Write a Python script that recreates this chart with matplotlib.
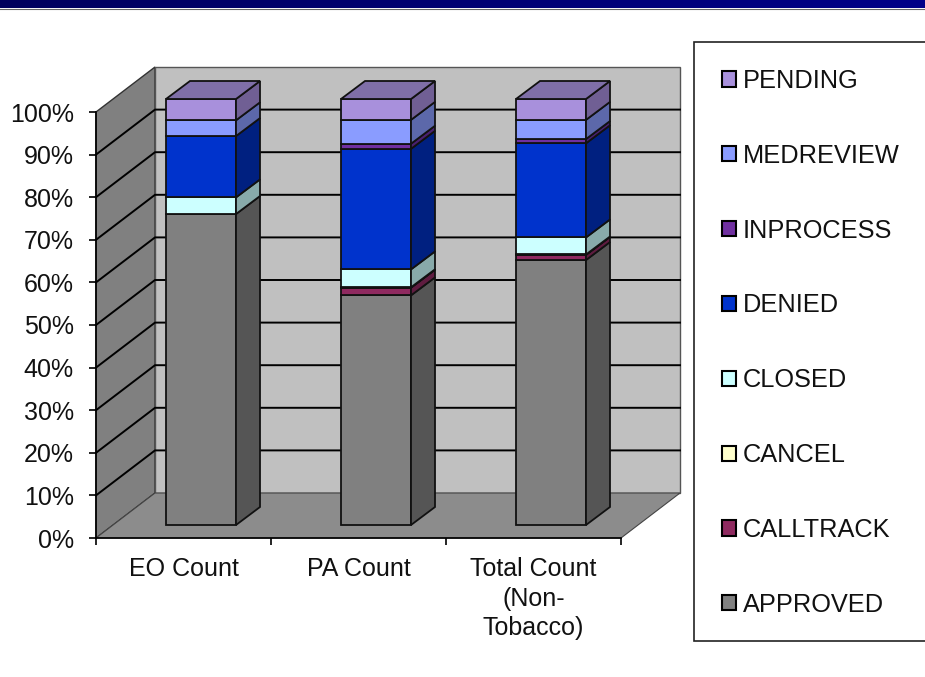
import matplotlib
matplotlib.use('Agg')
import matplotlib.pyplot as plt
from matplotlib.colors import LinearSegmentedColormap
from matplotlib.patches import Patch, Rectangle
import numpy as np

plt.rcParams['font.family'] = ['Liberation Sans', 'DejaVu Sans']

categories = ['EO Count', 'PA Count', 'Total Count\n(Non-\nTobacco)']
series_names = ['APPROVED', 'CALLTRACK', 'CANCEL', 'CLOSED', 'DENIED', 'INPROCESS', 'MEDREVIEW', 'PENDING']

approved = [73.0, 53.9, 62.2]
calltrack = [0.0, 1.8, 1.2]
cancel = [0.0, 0.1, 0.1]
closed = [3.9, 4.2, 4.0]
denied = [14.4, 28.3, 22.1]
inprocess = [0.0, 1.2, 1.0]
medreview = [3.7, 5.6, 4.5]
pending = [5.0, 4.9, 4.9]
series = [approved, calltrack, cancel, closed, denied, inprocess, medreview, pending]

front_colors = ['#808080', '#8f2a60', '#ffffcc', '#ccffff', '#0033cc', '#7030a0', '#8a9cff', '#a890dc']
side_colors = ['#555555', '#5f1c40', '#aaaa88', '#88aaaa', '#002080', '#4a2070', '#5c68aa', '#705f94']
top_color = '#7f6fa8'
y_ticks = [0, 10, 20, 30, 40, 50, 60, 70, 80, 90, 100]

# one axes over the whole figure, front plane of the chart is x 0-3 / y 0-100
fig = plt.figure(figsize=(9.25, 6.77), dpi=100)
ax = fig.add_axes([0, 0, 1, 1])
px_x = 175.0
px_y = 4.26
ax.set_xlim(-96 / px_x, (925 - 96) / px_x)
ax.set_ylim(-(677 - 538) / px_y, 538 / px_y)
ax.patch.set_alpha(0)

depth_x = 59 / px_x
depth_y = 45 / px_y
bar_w = 70 / px_x
bar_dx = 24 / px_x
bar_dy = 18 / px_y
off_x = 17.5 / px_x
off_y = 13 / px_y
n = len(categories)
edge = '#111111'

# walls and floor
ax.fill([0, depth_x, depth_x, 0], [0, depth_y, 100 + depth_y, 100], color='#808080', ec='#333333', lw=1, zorder=1)
ax.fill([depth_x, n + depth_x, n + depth_x, depth_x], [depth_y, depth_y, 100 + depth_y, 100 + depth_y],
        color='#c0c0c0', ec='#555555', lw=1, zorder=1)
ax.fill([0, n, n + depth_x, depth_x], [0, 0, depth_y, depth_y], color='#8c8c8c', ec='#444444', lw=0.8, zorder=1)

for t in y_ticks[1:-1]:
    ax.plot([0, depth_x, n + depth_x], [t, t + depth_y, t + depth_y], color='black', lw=1.4, zorder=2)

# stacked bars with the fake 3d faces
for i in range(n):
    left = i + 0.5 - bar_w / 2 + off_x
    right = left + bar_w
    bottom = off_y
    for vals, fc, sc in zip(series, front_colors, side_colors):
        v = vals[i]
        if v == 0:
            continue
        ax.bar(left, v, bar_w, bottom=bottom, align='edge', color=fc, ec=edge, lw=1.3, zorder=3)
        ax.fill([right, right + bar_dx, right + bar_dx, right],
                [bottom, bottom + bar_dy, bottom + v + bar_dy, bottom + v],
                color=sc, ec=edge, lw=1.3, zorder=3)
        bottom += v
    ax.fill([left, right, right + bar_dx, left + bar_dx],
            [bottom, bottom, bottom + bar_dy, bottom + bar_dy],
            color=top_color, ec=edge, lw=1.3, zorder=3)

# axes lines, ticks and labels
for s in ['top', 'right']:
    ax.spines[s].set_visible(False)
ax.spines['left'].set_position(('data', 0))
ax.spines['left'].set_bounds(0, 100)
ax.spines['bottom'].set_position(('data', 0))
ax.spines['bottom'].set_bounds(0, n)
ax.spines['left'].set_linewidth(1.2)
ax.spines['bottom'].set_linewidth(1.2)
ax.set_yticks(y_ticks, [str(t) + '%' for t in y_ticks], fontsize=18, color='#111111')
ax.tick_params(axis='y', length=5, width=1.2, pad=11)
ax.set_xticks(np.arange(n + 1), [''] * (n + 1))
ax.tick_params(axis='x', which='major', length=5, width=1.2)
ax.set_xticks(np.arange(n) + 0.5, categories, minor=True, fontsize=18, color='#111111')
ax.tick_params(axis='x', which='minor', length=0, pad=14)
for lab in ax.get_xticklabels(minor=True):
    lab.set_linespacing(1.27)

# legend box runs off the right edge
fig.add_artist(Rectangle((694 / 925, 1 - 641 / 677), 240 / 925, 599 / 677, transform=fig.transFigure,
                         fc='white', ec='#222222', lw=1.2, zorder=5))
handles = [Patch(fc=c, ec='black', lw=1.5) for c in front_colors[::-1]]
leg = fig.legend(handles, series_names[::-1], loc='upper left', bbox_to_anchor=(722 / 925, 1 - 69 / 677),
                 frameon=False, fontsize=18.3, labelspacing=2.0, handlelength=0.54, handleheight=0.54,
                 handletextpad=0.28, borderpad=0, borderaxespad=0, labelcolor='#111111')
leg.set_zorder(6)

# title bar at the top of the slide
bar = fig.add_axes([0, 1 - 8 / 677, 1, 8 / 677], zorder=7)
bar.imshow(np.linspace(0, 1, 256).reshape(1, -1), aspect='auto',
           cmap=LinearSegmentedColormap.from_list('b', ['#00005e', '#000088']))
bar.axis('off')
fig.add_artist(plt.Line2D([0, 1], [1 - 8.5 / 677] * 2, color='#666666', lw=0.8))

fig.savefig('out.png', dpi=100)
